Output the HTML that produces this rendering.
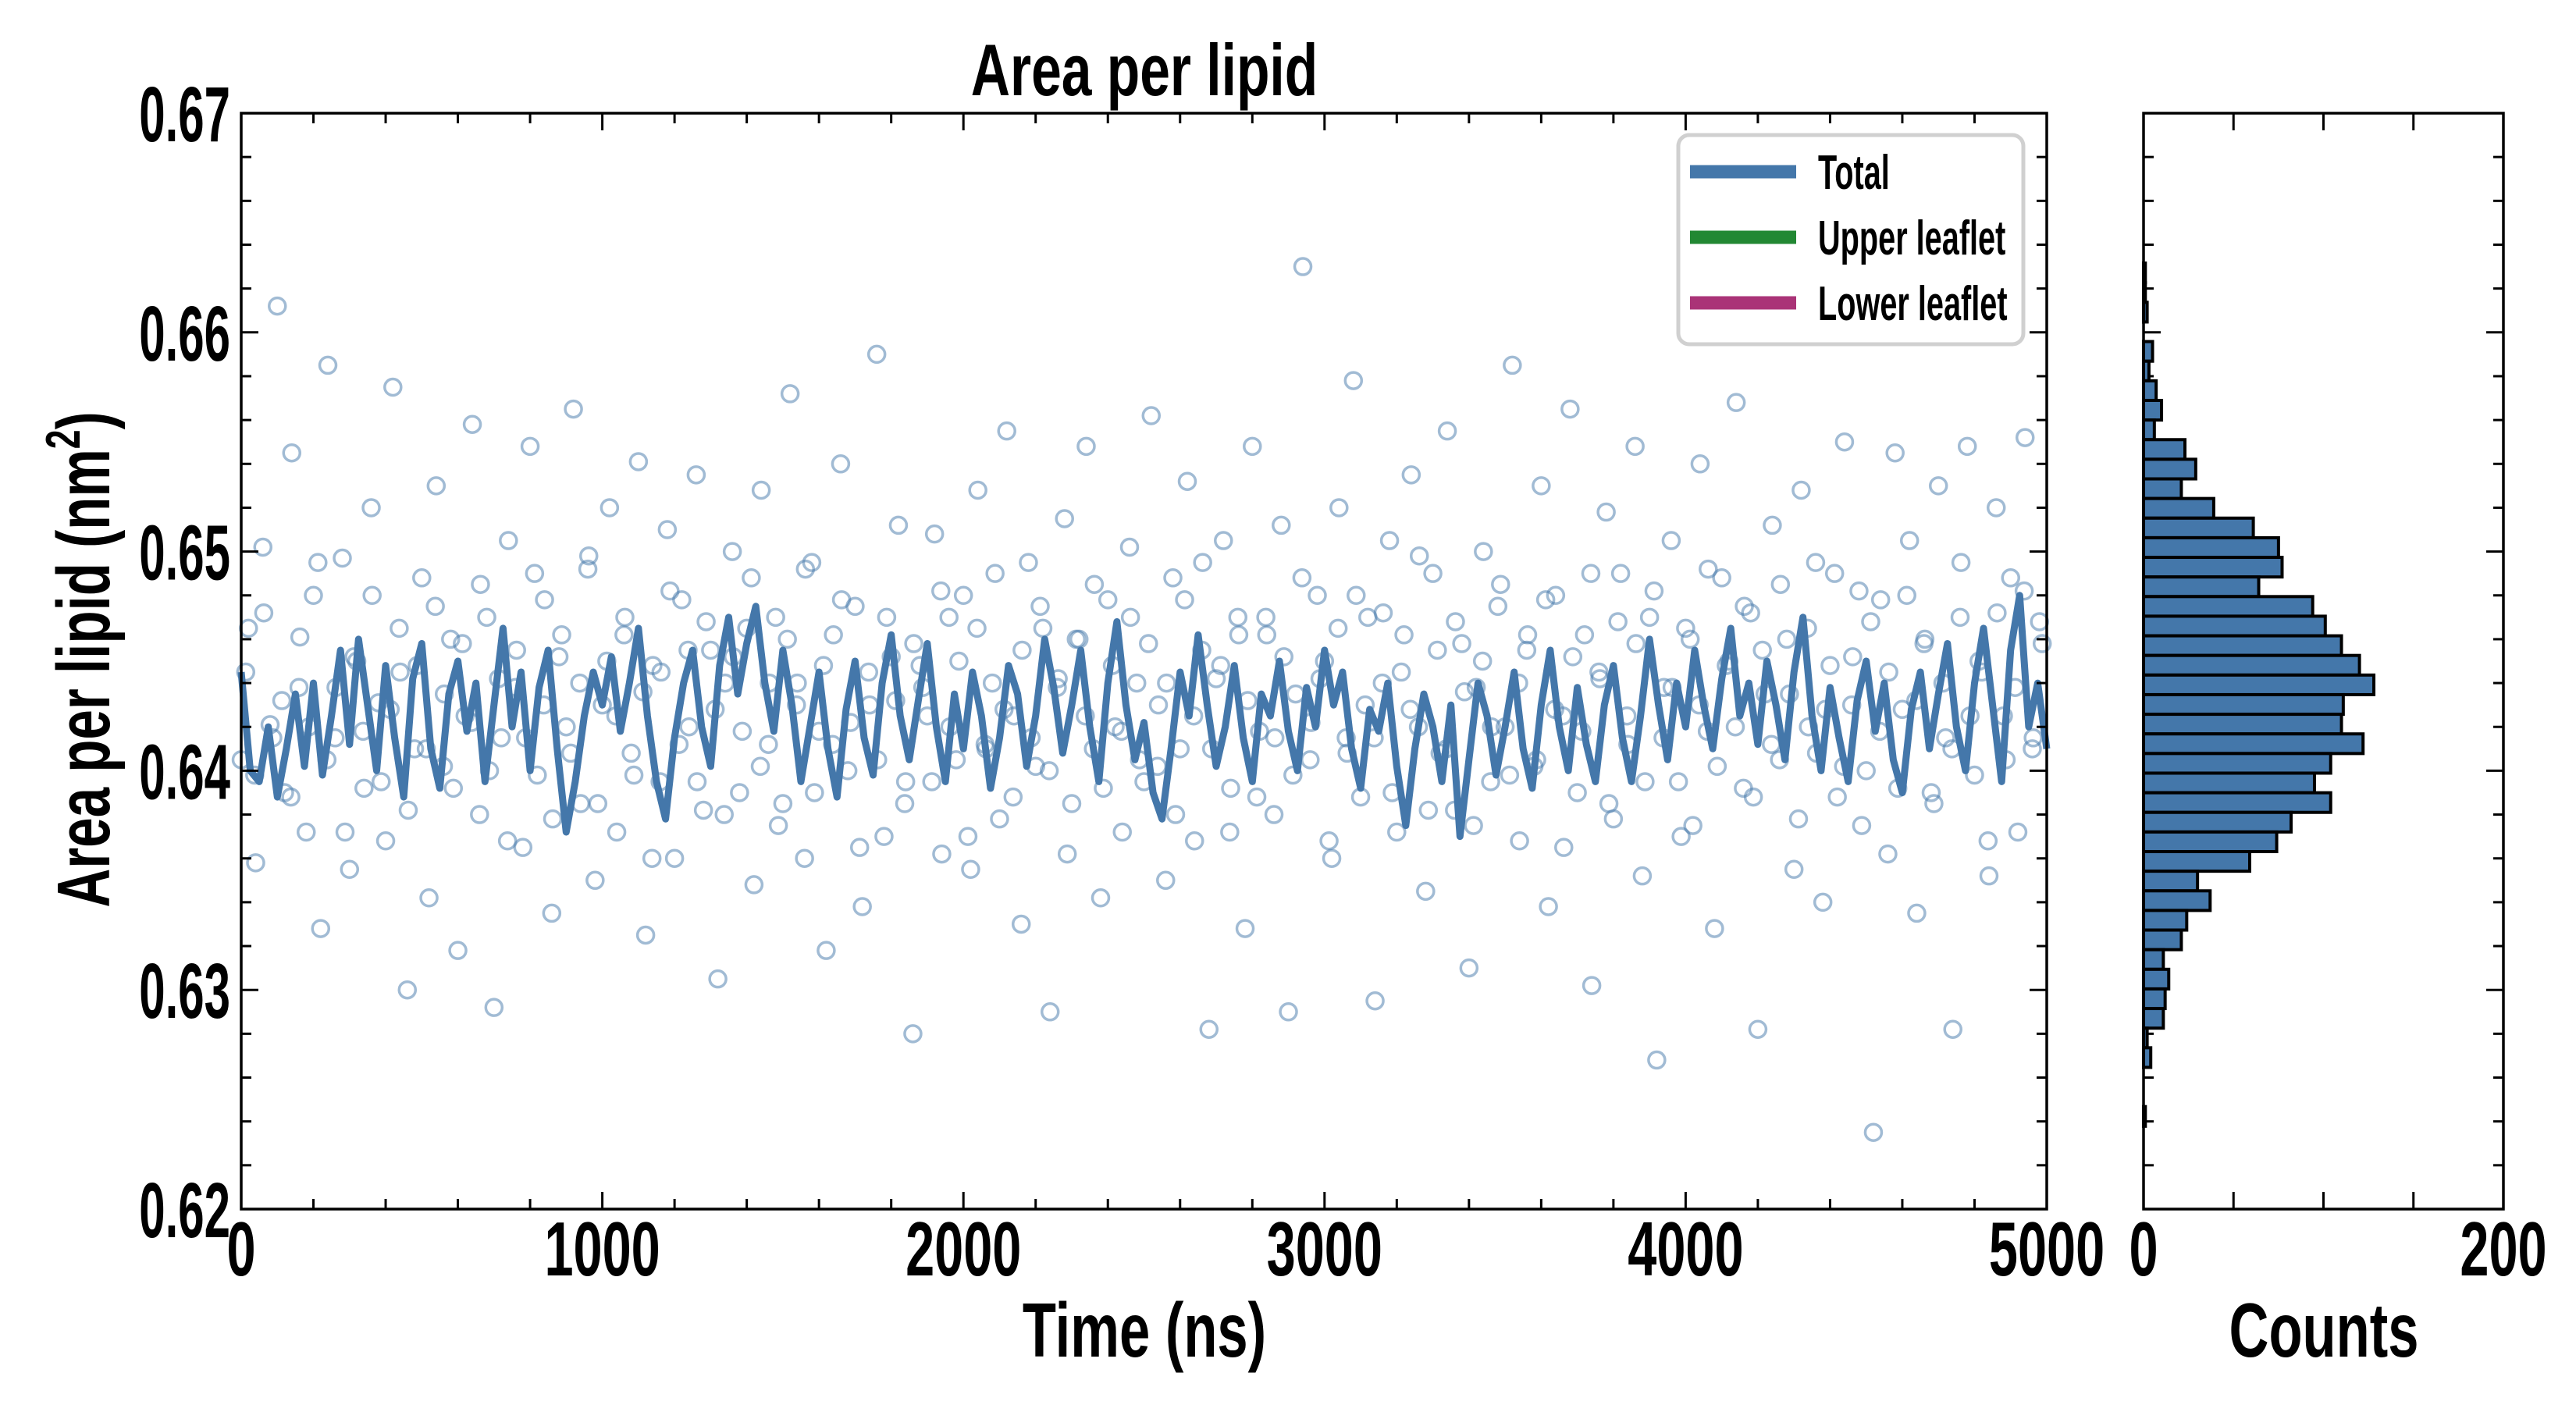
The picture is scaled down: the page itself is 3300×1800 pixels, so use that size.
<!DOCTYPE html>
<html><head><meta charset="utf-8"><style>
html,body{margin:0;padding:0;background:#fff;}
svg{display:block;font-family:"Liberation Sans",sans-serif;font-weight:bold;}
</style></head><body>
<svg id="chart" width="3300" height="1800" viewBox="0 0 3300 1800" xmlns="http://www.w3.org/2000/svg">
<rect width="3300" height="1800" fill="#fff"/>
<g id="main"></g>
<g id="hist"></g>
<text transform="translate(1466,122) scale(0.74,1)" font-size="94" text-anchor="middle">Area per lipid</text>
<text transform="translate(1466,1738) scale(0.72,1)" font-size="98" text-anchor="middle">Time (ns)</text>
<text transform="translate(2977,1738) scale(0.72,1)" font-size="98" text-anchor="middle">Counts</text>
<text transform="translate(140,845) rotate(-90) scale(0.72,1)" font-size="96" text-anchor="middle">Area per lipid (nm<tspan dy="-38" font-size="62">2</tspan><tspan dy="38">)</tspan></text>
</svg>
<script>
const lineVals=[0.6445,0.6400,0.6395,0.6420,0.6388,0.6410,0.6435,0.6402,0.6440,0.6398,0.6425,0.6455,0.6412,0.6460,0.6430,0.6400,0.6448,0.6415,0.6388,0.6442,0.6458,0.6410,0.6392,0.6435,0.6450,0.6418,0.6440,0.6395,0.6430,0.6465,0.6420,0.6445,0.6400,0.6438,0.6455,0.6410,0.6372,0.6395,0.6425,0.6445,
0.6430,0.6452,0.6418,0.6440,0.6465,0.6425,0.6395,0.6378,0.6415,0.6440,0.6455,0.6420,0.6402,0.6448,0.6470,0.6435,0.6458,0.6475,0.6440,0.6418,0.6455,0.6430,0.6395,0.6420,0.6445,0.6410,0.6388,0.6428,0.6450,0.6415,0.6398,0.6440,0.6462,0.6425,0.6405,0.6432,0.6458,0.6420,0.6395,0.6435,
0.6410,0.6445,0.6425,0.6392,0.6415,0.6448,0.6435,0.6402,0.6425,0.6460,0.6438,0.6408,0.6430,0.6455,0.6420,0.6395,0.6440,0.6468,0.6430,0.6405,0.6422,0.6390,0.6378,0.6410,0.6445,0.6425,0.6462,0.6430,0.6402,0.6420,0.6448,0.6415,0.6395,0.6435,0.6425,0.6450,0.6418,0.6400,0.6438,0.6420,
0.6455,0.6430,0.6445,0.6410,0.6392,0.6428,0.6418,0.6440,0.6402,0.6375,0.6410,0.6435,0.6420,0.6395,0.6430,0.6370,0.6405,0.6440,0.6425,0.6398,0.6420,0.6445,0.6410,0.6392,0.6430,0.6455,0.6420,0.6400,0.6438,0.6412,0.6395,0.6430,0.6448,0.6415,0.6395,0.6425,0.6460,0.6430,0.6405,0.6440,
0.6420,0.6455,0.6430,0.6410,0.6442,0.6465,0.6425,0.6440,0.6412,0.6450,0.6430,0.6405,0.6445,0.6470,0.6425,0.6400,0.6438,0.6415,0.6395,0.6432,0.6450,0.6418,0.6440,0.6405,0.6390,0.6428,0.6445,0.6410,0.6435,0.6458,0.6420,0.6400,0.6440,0.6465,0.6430,0.6395,0.6455,0.6480,0.6420,0.6440,0.6410];
const scatterVals=[0.6405,0.6465,0.6358,0.6502,0.6421,0.6612,0.6390,0.6545,0.6438,0.6372,0.6480,0.6328,0.6585,0.6415,0.6497,0.6355,0.6450,0.6392,0.6520,0.6431,0.6368,0.6575,0.6445,0.6300,0.6410,
0.6488,0.6342,0.6530,0.6402,0.6460,0.6318,0.6425,0.6558,0.6380,0.6470,0.6292,0.6415,0.6505,0.6438,0.6365,0.6548,0.6398,0.6478,0.6335,0.6452,0.6420,0.6565,0.6385,0.6492,0.6350,
0.6430,0.6520,0.6372,0.6462,0.6408,0.6541,0.6325,0.6448,0.6395,0.6510,0.6360,0.6478,0.6420,0.6535,0.6382,0.6455,0.6305,0.6440,0.6500,0.6390,0.6465,0.6348,0.6528,0.6412,0.6470,
0.6385,0.6572,0.6440,0.6360,0.6495,0.6418,0.6318,0.6462,0.6540,0.6400,0.6475,0.6338,0.6430,0.6590,0.6370,0.6452,0.6512,0.6395,0.6280,0.6448,0.6425,0.6508,0.6362,0.6470,0.6405,
0.6480,0.6355,0.6528,0.6412,0.6440,0.6378,0.6555,0.6425,0.6330,0.6495,0.6402,0.6465,0.6290,0.6438,0.6515,0.6385,0.6460,0.6548,0.6410,0.6342,0.6478,0.6420,0.6372,0.6502,0.6440,
0.6395,0.6562,0.6430,0.6350,0.6488,0.6410,0.6532,0.6368,0.6455,0.6282,0.6442,0.6505,0.6392,0.6470,0.6328,0.6548,0.6418,0.6462,0.6380,0.6512,0.6290,0.6435,0.6630,0.6405,0.6480,
0.6450,0.6360,0.6520,0.6415,0.6578,0.6388,0.6470,0.6295,0.6440,0.6505,0.6372,0.6462,0.6535,0.6420,0.6345,0.6490,0.6408,0.6555,0.6382,0.6458,0.6310,0.6438,0.6500,0.6395,0.6475,
0.6420,0.6585,0.6368,0.6455,0.6402,0.6530,0.6338,0.6480,0.6425,0.6565,0.6390,0.6462,0.6302,0.6445,0.6518,0.6378,0.6490,0.6412,0.6548,0.6352,0.6470,0.6268,0.6438,0.6505,0.6395,
0.6465,0.6375,0.6540,0.6418,0.6328,0.6488,0.6450,0.6568,0.6392,0.6472,0.6282,0.6435,0.6512,0.6405,0.6460,0.6355,0.6528,0.6420,0.6495,0.6340,0.6448,0.6388,0.6550,0.6430,0.6482,
0.6400,0.6235,0.6478,0.6362,0.6545,0.6428,0.6505,0.6335,0.6458,0.6390,0.6530,0.6415,0.6282,0.6470,0.6548,0.6398,0.6445,0.6352,0.6520,0.6425,0.6488,0.6372,0.6552,0.6410,0.6468];
const scatterVals2=[0.6445,0.6398,0.6472,0.6415,0.6432,0.6388,0.6461,0.6420,0.6495,0.6405,0.6438,0.6372,0.6452,0.6418,0.6480,0.6395,0.6428,0.6465,0.6382,0.6448,0.6410,0.6475,0.6435,0.6392,0.6458,
0.6422,0.6485,0.6400,0.6442,0.6368,0.6455,0.6415,0.6490,0.6430,0.6378,0.6462,0.6408,0.6440,0.6498,0.6385,0.6450,0.6425,0.6470,0.6398,0.6436,0.6360,0.6445,0.6482,0.6412,0.6455,
0.6395,0.6468,0.6428,0.6380,0.6452,0.6418,0.6488,0.6402,0.6440,0.6375,0.6460,0.6430,0.6492,0.6390,0.6448,0.6412,0.6478,0.6422,0.6365,0.6445,0.6405,0.6470,0.6432,0.6385,0.6458,
0.6438,0.6395,0.6482,0.6420,0.6450,0.6370,0.6465,0.6410,0.6490,0.6428,0.6388,0.6455,0.6415,0.6475,0.6400,0.6442,0.6362,0.6460,0.6425,0.6485,0.6392,0.6448,0.6418,0.6470,0.6405,
0.6458,0.6402,0.6440,0.6380,0.6478,0.6425,0.6495,0.6410,0.6448,0.6372,0.6462,0.6432,0.6388,0.6470,0.6415,0.6452,0.6398,0.6488,0.6422,0.6442,0.6368,0.6465,0.6408,0.6480,0.6430,
0.6415,0.6472,0.6390,0.6445,0.6428,0.6498,0.6382,0.6455,0.6410,0.6468,0.6436,0.6375,0.6450,0.6420,0.6485,0.6398,0.6440,0.6462,0.6405,0.6478,0.6428,0.6365,0.6452,0.6418,0.6490,
0.6442,0.6385,0.6468,0.6425,0.6458,0.6395,0.6482,0.6415,0.6438,0.6370,0.6460,0.6430,0.6492,0.6402,0.6448,0.6420,0.6475,0.6388,0.6455,0.6412,0.6485,0.6435,0.6378,0.6465,0.6408,
0.6428,0.6490,0.6402,0.6452,0.6375,0.6468,0.6418,0.6445,0.6392,0.6480,0.6432,0.6460,0.6385,0.6440,0.6410,0.6495,0.6425,0.6450,0.6368,0.6472,0.6405,0.6438,0.6482,0.6415,0.6458];
const histCounts=[1,1,2,0,5,3,7,10,6,23,29,21,39,61,75,77,64,94,101,110,120,128,111,110,122,104,95,104,82,74,59,30,37,24,21,11,14,12,11,2,4,0,0,1];
const histTop=0.66316, histBinW=0.000895;
const xTicks=[0,1000,2000,3000,4000,5000];
const yTicks=[0.62,0.63,0.64,0.65,0.66,0.67];
const yTickLabels=["0.62","0.63","0.64","0.65","0.66","0.67"];
const hTicks=[0,200];
const legendLabels=["Total","Upper leaflet","Lower leaflet"];
const legendColors=["#4477aa","#228833","#aa3377"];

const NS="http://www.w3.org/2000/svg";
const L=309,R=2622,T=145,B=1549,HL=2746,HR=3207;
const X=v=>L+(v-0)/5000*(R-L);
const Y=v=>B-(v-0.62)/0.05*(B-T);
const HX=v=>HL+v/200*(HR-HL);
function mk(tag,attrs,parent){const e=document.createElementNS(NS,tag);for(const k in attrs)e.setAttribute(k,attrs[k]);parent.appendChild(e);return e;}
const main=document.getElementById('main'), hist=document.getElementById('hist');

// scatter
const sg=mk('g',{},main);


function drawPts(arr,off){arr.forEach((v,i)=>{const c=mk('circle',{cx:X((i+off)*5000/(arr.length)),cy:Y(v),r:10.5,fill:'none',stroke:'#4477aa','stroke-opacity':0.5,'stroke-width':3.5},sg);

});}
drawPts(scatterVals,0);
drawPts(scatterVals2,0.5);
// line
const d=lineVals.map((v,i)=>(i?'L':'M')+X(i*5000/(lineVals.length-1)).toFixed(1)+','+Y(v).toFixed(1)).join('');
const ln=mk('path',{d:d,fill:'none',stroke:'#4477aa','stroke-width':9,'stroke-linejoin':'round'},main);



// main axes frame + ticks
mk('rect',{x:L,y:T,width:R-L,height:B-T,fill:'none',stroke:'#000','stroke-width':3.5},main);
for(let v=0;v<=5000;v+=200){const maj=v%1000===0;const len=maj?22:13;const x=X(v);
mk('line',{x1:x,x2:x,y1:B,y2:B-len,stroke:'#000','stroke-width':3},main);
mk('line',{x1:x,x2:x,y1:T,y2:T+len,stroke:'#000','stroke-width':3},main);}
for(let k=0;k<=25;k++){const v=0.62+k*0.002;const maj=k%5===0;const len=maj?22:13;const y=Y(v);
mk('line',{x1:L,x2:L+len,y1:y,y2:y,stroke:'#000','stroke-width':3},main);
mk('line',{x1:R,x2:R-len,y1:y,y2:y,stroke:'#000','stroke-width':3},main);
mk('line',{x1:HL,x2:HL+len,y1:y,y2:y,stroke:'#000','stroke-width':3},hist);
mk('line',{x1:HR,x2:HR-len,y1:y,y2:y,stroke:'#000','stroke-width':3},hist);}
xTicks.forEach(v=>{const t=mk('text',{transform:'translate('+X(v)+',1634) scale(0.68,1)','font-size':98,'text-anchor':'middle'},main);t.textContent=v;

});
yTicks.forEach((v,i)=>{const t=mk('text',{transform:'translate('+(L-14)+','+(Y(v)+36)+') scale(0.6,1)','font-size':100,'text-anchor':'end'},main);t.textContent=yTickLabels[i];

});

// legend
const lg=mk('g',{},main);


mk('rect',{x:2150,y:173,width:442,height:268,rx:14,fill:'#fff','fill-opacity':0.8,stroke:'#d0d0d0','stroke-width':5},lg);
legendLabels.forEach((s,i)=>{const y=220+i*84;
const sw=mk('line',{x1:2165,x2:2301,y1:y,y2:y,stroke:legendColors[i],'stroke-width':17},lg);


const t=mk('text',{transform:'translate(2329,'+(y+22)+') scale(0.64,1)','font-size':62},lg);t.textContent=s;

});

// histogram
histCounts.forEach((c,i)=>{const top=histTop-i*histBinW;const y1=Y(top),y2=Y(top-histBinW);
const r=mk('rect',{x:HX(0),y:y1,width:HX(c)-HX(0),height:y2-y1,fill:'#4477aa',stroke:'#000','stroke-width':4},hist);

});
mk('rect',{x:HL,y:T,width:HR-HL,height:B-T,fill:'none',stroke:'#000','stroke-width':3.5},hist);
for(let v=0;v<=200;v+=50){const x=HX(v);
mk('line',{x1:x,x2:x,y1:B,y2:B-22,stroke:'#000','stroke-width':3},hist);
mk('line',{x1:x,x2:x,y1:T,y2:T+22,stroke:'#000','stroke-width':3},hist);}
hTicks.forEach(v=>{const t=mk('text',{transform:'translate('+HX(v)+',1634) scale(0.68,1)','font-size':98,'text-anchor':'middle'},hist);t.textContent=v;

});
</script>
</body></html>
